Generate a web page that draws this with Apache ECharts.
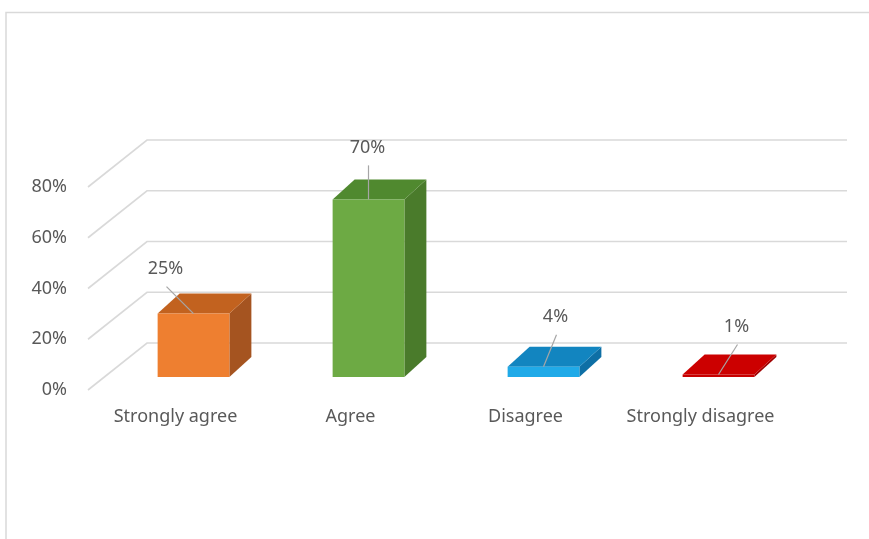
<!DOCTYPE html>
<html>
<head>
<meta charset="utf-8">
<script src="https://cdn.jsdelivr.net/npm/echarts@6/dist/echarts.min.js"></script>
<style>
html,body{margin:0;padding:0;background:#fff;}
#chart{width:869px;height:539px;}
</style>
</head>
<body>
<div id="chart"></div>
<script>
// ---- data ----
var categories = ['Strongly agree', 'Agree', 'Disagree', 'Strongly disagree'];
var values = [25, 70, 4, 1];
var yTicks = [0, 20, 40, 60, 80];

// ---- styling / layout (not data) ----
var faceColors = [
  { front: '#EE7F30', top: '#C2621F', side: '#A55420' },
  { front: '#6DAA44', top: '#50892F', side: '#4A7B2B' },
  { front: '#20AAE8', top: '#1285C0', side: '#0E6FA5' },
  { front: '#C80000', top: '#CC0000', side: '#A00000' }
];
var labelShift = [[-28, -45], [-1, -52], [12, -50], [18, -48]];
var FLOOR_DX = 59, FLOOR_DY = -47;   // depth of floor / side wall
var FRONT_DX = 18, FRONT_DY = -13;   // offset of bar front face from front plane
var BAR_DX = 22, BAR_DY = -20;       // bar depth
var BAR_RATIO = 0.41;
var TEXT = '#595959', GRID = '#D9D9D9';
var FS = 18;

var chart = echarts.init(document.getElementById('chart'));

function renderWalls(params, api) {
  var cs = params.coordSys;
  var v = api.value(0);
  var y = api.coord([0, v])[1];
  var x0 = cs.x, x1 = cs.x + cs.width;
  return {
    type: 'polyline',
    shape: { points: [[x0, y], [x0 + FLOOR_DX, y + FLOOR_DY], [x1 + FLOOR_DX, y + FLOOR_DY]] },
    style: { stroke: GRID, lineWidth: 1.6, fill: null },
    silent: true
  };
}

function renderBar(params, api) {
  var i = api.value(0);
  var v = api.value(1);
  var base = api.coord([i, 0]);
  var top = api.coord([i, v]);
  var band = api.size([1, 0])[0];
  var w = band * BAR_RATIO;
  var cx = base[0] + FRONT_DX;
  var xL = cx - w / 2, xR = cx + w / 2;
  var yB = base[1] + FRONT_DY, yT = top[1] + FRONT_DY;
  var c = faceColors[i];
  var sh = labelShift[i];
  var lx = cx + sh[0], ly = yT + sh[1];
  return {
    type: 'group',
    children: [
      { type: 'polygon', shape: { points: [[xR, yT], [xR, yB], [xR + BAR_DX, yB + BAR_DY], [xR + BAR_DX, yT + BAR_DY]] }, style: { fill: c.side } },
      { type: 'polygon', shape: { points: [[xL, yT], [xR, yT], [xR + BAR_DX, yT + BAR_DY], [xL + BAR_DX, yT + BAR_DY]] }, style: { fill: c.top } },
      { type: 'rect', shape: { x: xL, y: yT, width: w, height: Math.max(yB - yT, 0.5) }, style: { fill: c.front } },
      { type: 'line', shape: { x1: lx + 1, y1: ly + 18, x2: cx, y2: yT }, style: { stroke: '#A6A6A6', lineWidth: 1.2 } },
      { type: 'text', x: lx, y: ly, style: { text: v + '%', fill: TEXT, font: FS + 'px "Noto Sans"', align: 'center', verticalAlign: 'middle' } }
    ]
  };
}

var barData = values.map(function (v, i) { return [i, v]; });

chart.setOption({
  animation: false,
  backgroundColor: '#fff',
  graphic: [
    { type: 'polyline', shape: { points: [[6, 539], [6, 12.5], [869, 12.5]] }, style: { stroke: GRID, lineWidth: 1.5, fill: null }, silent: true }
  ],
  grid: { left: 88, right: 81, top: 187, bottom: 149 },
  xAxis: {
    type: 'category',
    data: categories,
    axisLine: { show: false },
    axisTick: { show: false },
    axisLabel: { color: TEXT, fontSize: FS, fontFamily: 'Noto Sans', margin: 18, interval: 0, hideOverlap: false }
  },
  yAxis: {
    type: 'value',
    min: 0, max: 80, interval: 20,
    axisLine: { show: false },
    axisTick: { show: false },
    splitLine: { show: false },
    axisLabel: { color: TEXT, fontSize: FS, fontFamily: 'Noto Sans', margin: 21, formatter: '{value}%' }
  },
  series: [
    { type: 'custom', renderItem: renderWalls, data: yTicks.map(function (t) { return [t]; }), encode: { y: 0 }, clip: false, silent: true, z: 1 },
    { type: 'custom', renderItem: renderBar, data: barData, encode: { x: 0, y: 1 }, clip: false, z: 2 }
  ]
});
</script>
</body>
</html>
